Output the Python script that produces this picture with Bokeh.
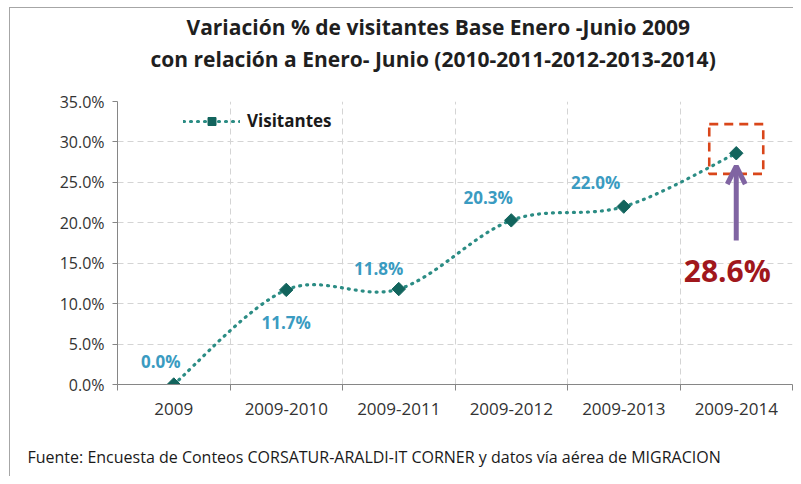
from bokeh.plotting import figure
from bokeh.models import (ColumnDataSource, FixedTicker, PrintfTickFormatter, Legend, LegendItem,
                          LabelSet, Label, Arrow, OpenHead, BoxAnnotation, Title, Range1d)
from bokeh.core.properties import value
from bokeh.embed import file_html
from bokeh.resources import INLINE
import math

# ---- data ----
categories = ["2009", "2009-2010", "2009-2011", "2009-2012", "2009-2013", "2009-2014"]
visitantes = [0.0, 11.7, 11.8, 20.3, 22.0, 28.6]
y_ticks = [0, 5, 10, 15, 20, 25, 30, 35]
title_1 = "Variación % de visitantes  Base Enero -Junio 2009"
title_2 = "con relación a Enero- Junio (2010-2011-2012-2013-2014)"
source_note = "Fuente: Encuesta de Conteos CORSATUR-ARALDI-IT CORNER y  datos vía aérea de MIGRACION"
caption = "Gráfico 6"

# ---- styles ----
FONT = "Open Sans"
LINE_C = "#2B8C84"
MARK_C = "#12645D"
LBL_C = "#3A9BC1"
RED_C = "#A0171C"
BOX_C = "#D9461A"
ARROW_C = "#8064A2"
AXIS_C = "#868686"
GRID_C = "#D4D4D4"
FRAME_C = "#A6A6A6"

n = len(categories)
xs = [i + 0.5 for i in range(n)]

p = figure(width=793, height=476, output_backend="svg", toolbar_location=None,
           x_range=Range1d(0, n), y_range=Range1d(0, 35),
           min_border_left=117, min_border_right=1, min_border_top=101, min_border_bottom=92)
p.outline_line_color = None
p.background_fill_color = "white"
p.border_fill_color = None
# outer frame of the original chart object (left and top edges), drawn as page background
p.styles = {"background": (f"linear-gradient({FRAME_C}, {FRAME_C}) 9px 7px / 1px 100% no-repeat, "
                           f"linear-gradient({FRAME_C}, {FRAME_C}) 9px 7px / 100% 1px no-repeat, #ffffff")}

# grids
p.ygrid.ticker = FixedTicker(ticks=y_ticks)
p.ygrid.grid_line_color = GRID_C
p.ygrid.grid_line_dash = "6 4"
p.xgrid.ticker = FixedTicker(ticks=list(range(1, n + 1)))
p.xgrid.grid_line_color = GRID_C
p.xgrid.grid_line_dash = "6 4"

# y axis
p.yaxis.ticker = FixedTicker(ticks=y_ticks)
p.yaxis.formatter = PrintfTickFormatter(format="%.1f%%")
p.yaxis.axis_line_color = AXIS_C
p.yaxis.major_tick_line_color = AXIS_C
p.yaxis.major_tick_out = 5
p.yaxis.major_tick_in = 0
p.yaxis.minor_tick_line_color = None
p.yaxis.major_label_text_font = FONT
p.yaxis.major_label_text_font_size = "16px"
p.yaxis.major_label_text_color = "#333333"
p.yaxis.major_label_standoff = 8

# x axis: labels at centres, tick marks at boundaries
p.xaxis.ticker = FixedTicker(ticks=xs, minor_ticks=list(range(0, n + 1)))
p.xaxis.major_label_overrides = {x: c for x, c in zip(xs, categories)}
p.xaxis.axis_line_color = AXIS_C
p.xaxis.major_tick_line_color = None
p.xaxis.major_tick_out = 0
p.xaxis.major_tick_in = 0
p.xaxis.minor_tick_line_color = AXIS_C
p.xaxis.minor_tick_out = 6
p.xaxis.minor_tick_in = 0
p.xaxis.major_label_text_font = FONT
p.xaxis.major_label_text_font_size = "17px"
p.xaxis.major_label_text_color = "#333333"
p.xaxis.major_label_standoff = 12

# smoothed line (Catmull-Rom -> cubic Bezier control points from the data)
x0s, y0s, x1s, y1s, cx0, cy0, cx1, cy1 = [], [], [], [], [], [], [], []
for i in range(n - 1):
    pa = (xs[i - 1], visitantes[i - 1]) if i > 0 else (xs[i], visitantes[i])
    pb = (xs[i], visitantes[i])
    pc = (xs[i + 1], visitantes[i + 1])
    pd = (xs[i + 2], visitantes[i + 2]) if i + 2 < n else pc
    x0s.append(pb[0]); y0s.append(pb[1]); x1s.append(pc[0]); y1s.append(pc[1])
    cx0.append(pb[0] + (pc[0] - pa[0]) / 6); cy0.append(pb[1] + (pc[1] - pa[1]) / 6)
    cx1.append(pc[0] - (pd[0] - pb[0]) / 6); cy1.append(pc[1] - (pd[1] - pb[1]) / 6)
curve_src = ColumnDataSource(dict(x0=x0s, y0=y0s, x1=x1s, y1=y1s, cx0=cx0, cy0=cy0, cx1=cx1, cy1=cy1))
bez = p.bezier(x0="x0", y0="y0", x1="x1", y1="y1", cx0="cx0", cy0="cy0", cx1="cx1", cy1="cy1",
               source=curve_src, line_color=LINE_C, line_width=3.2, line_dash="1 6", line_cap="round")

pts = ColumnDataSource(dict(x=xs, y=visitantes))
sc = p.scatter(x="x", y="y", source=pts, marker="square", angle=math.pi / 4, size=9.5,
               fill_color=MARK_C, line_color=MARK_C)

# data labels (all but the highlighted last value)
lbl_dx = [-13, 0, -20, -23, -28]
lbl_dy = [23, -33, 21, 23, 24]
lbl_src = ColumnDataSource(dict(x=xs[:-1], y=visitantes[:-1],
                                t=[f"{v:.1f}%" for v in visitantes[:-1]], dx=lbl_dx, dy=lbl_dy))
p.add_layout(LabelSet(x="x", y="y", text="t", x_offset="dx", y_offset="dy", source=lbl_src,
                      text_align="center", text_baseline="middle", text_font=value(FONT),
                      text_font_style="bold", text_font_size="17px", text_color=LBL_C))

# highlight of last value
last_x, last_y = xs[-1], visitantes[-1]
p.add_layout(BoxAnnotation(left=last_x - 0.24, right=last_x + 0.24, bottom=last_y - 2.55, top=last_y + 3.6,
                           fill_alpha=0, line_color=BOX_C, line_alpha=1, line_width=2.6, line_dash="9 6"))
p.add_layout(Arrow(x_start=last_x, y_start=last_y - 10.8, x_end=last_x, y_end=last_y - 1.6,
                   line_color=ARROW_C, line_width=5,
                   end=OpenHead(size=18, line_color=ARROW_C, line_width=5)))
p.add_layout(Label(x=last_x, y=last_y, x_offset=-9, y_offset=-117, text=f"{last_y:.1f}%",
                   text_align="center", text_baseline="middle", text_font=FONT,
                   text_font_style="bold", text_font_size="30px", text_color=RED_C))

# legend
legend = Legend(items=[LegendItem(label="Visitantes", renderers=[bez, sc], index=0)],
                location=(66, 252), glyph_width=57, glyph_height=20, label_height=20,
                label_standoff=7, padding=0, margin=0, spacing=0,
                border_line_color=None, background_fill_alpha=0,
                label_text_font=FONT, label_text_font_style="bold", label_text_font_size="17px",
                label_text_color="#1A1A1A")
p.add_layout(legend)

# caption of the original document, above the chart frame
p.add_layout(Label(x=-100, y=377, x_units="screen", y_units="screen", text=caption,
                   text_font=FONT, text_font_style="bold", text_font_size="9.5px",
                   text_color="#1A1A1A", text_baseline="alphabetic"))

# titles (spacer keeps the gap between the second line and the plot area)
spacer_top = Title(text=" ", text_font_size="1px", standoff=26)
t2 = Title(text=title_2, align="left", offset=33, text_font=FONT, text_font_style="bold",
           text_font_size="21px", text_color="#1F1F1F", standoff=0)
t1 = Title(text=title_1, align="left", offset=69, text_font=FONT, text_font_style="bold",
           text_font_size="21px", text_color="#1F1F1F", standoff=4)
p.add_layout(spacer_top, "above")
p.add_layout(t2, "above")
p.add_layout(t1, "above")

spacer_bottom = Title(text=" ", text_font_size="1px", standoff=23)
note = Title(text=source_note, align="left", offset=-90, text_font=FONT, text_font_style="normal",
             text_font_size="16px", text_color="#1A1A1A", standoff=0)
p.add_layout(spacer_bottom, "below")
p.add_layout(note, "below")

open("out.html", "w").write(file_html(p, INLINE))
